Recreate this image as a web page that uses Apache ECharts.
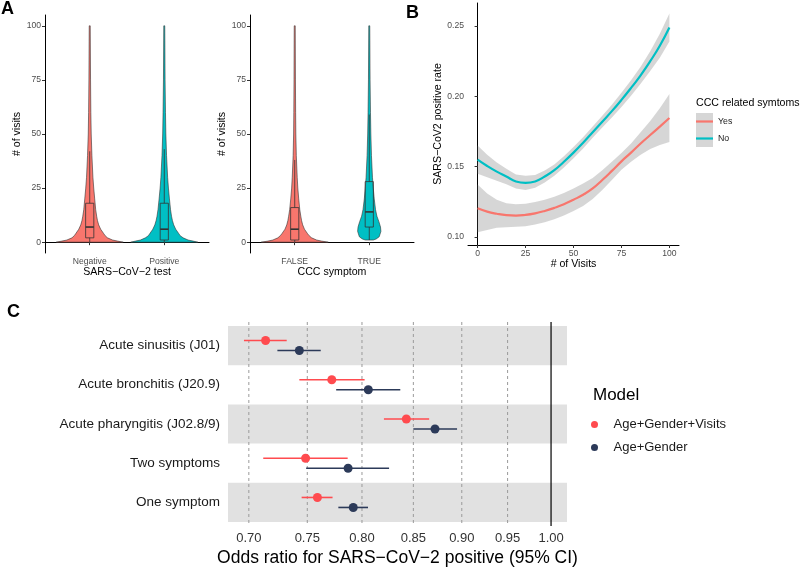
<!DOCTYPE html>
<html><head><meta charset="utf-8">
<script src="https://cdn.jsdelivr.net/npm/echarts@6/dist/echarts.min.js"></script>
<style>html,body{margin:0;padding:0;background:#fff}#c{width:800px;height:569px}</style>
</head><body><div id="c"></div>
<script>
// ---------- Panel A data ----------
const testGroups = ['Negative', 'Positive'];
const symptomGroups = ['FALSE', 'TRUE'];
const visitTicks = [0, 25, 50, 75, 100];
const violinLevels = [0, 0.5, 1, 2, 3, 4, 6, 8, 10, 12, 15, 20, 25, 30, 40, 50, 60, 75, 100];
const densNegative = [1.0, 0.83, 0.68, 0.53, 0.46, 0.415, 0.326, 0.267, 0.231, 0.207, 0.178, 0.148, 0.119, 0.095, 0.065, 0.044, 0.033, 0.024, 0.015];
const densPositive = [1.0, 0.86, 0.71, 0.563, 0.474, 0.43, 0.341, 0.281, 0.243, 0.216, 0.187, 0.154, 0.124, 0.10, 0.068, 0.047, 0.036, 0.024, 0.015];
const densFalse    = [1.0, 0.80, 0.652, 0.504, 0.43, 0.379, 0.29, 0.237, 0.204, 0.181, 0.151, 0.119, 0.092, 0.074, 0.047, 0.033, 0.027, 0.021, 0.015];
const trueLevels   = [1, 1.5, 2.5, 5, 7, 9.5, 12, 15, 20, 25, 30, 40, 50, 60, 75, 100];
const densTrue     = [0.119, 0.207, 0.296, 0.347, 0.335, 0.287, 0.228, 0.187, 0.148, 0.119, 0.095, 0.065, 0.047, 0.036, 0.024, 0.015];
// box stats: [min, q1, median, q3, upper whisker]
const boxNegative = [0, 2, 7, 18, 42];
const boxPositive = [0, 1, 6, 18, 43];
const boxFalse    = [0, 1, 6, 16, 38];
const boxTrue     = [1, 7, 14, 28, 59];

// ---------- Panel B data ----------
const visitsX = [0,5,10,15,20,25,30,35,40,45,50,55,60,65,70,75,80,85,90,95,100];
const rateYes   = [0.1204,0.1180,0.1165,0.1155,0.1152,0.1157,0.1168,0.1185,0.1207,0.1233,0.1265,0.1300,0.1345,0.1405,0.1470,0.1538,0.1600,0.1665,0.1725,0.1785,0.1846];
const rateYesLo = [0.1034,0.1050,0.1065,0.1070,0.1072,0.1077,0.1088,0.1105,0.1127,0.1153,0.1185,0.1220,0.1270,0.1335,0.1405,0.1478,0.1535,0.1585,0.1625,0.1655,0.1676];
const rateYesHi = [0.1374,0.1310,0.1265,0.1240,0.1232,0.1237,0.1248,0.1265,0.1287,0.1313,0.1345,0.1380,0.1420,0.1475,0.1535,0.1598,0.1665,0.1745,0.1825,0.1915,0.2016];
const rateNo    = [0.1550,0.1505,0.1465,0.1430,0.1395,0.1385,0.1395,0.1430,0.1475,0.1535,0.1600,0.1670,0.1745,0.1820,0.1895,0.1975,0.2060,0.2150,0.2250,0.2360,0.2490];
const rateNoLo  = [0.1450,0.1425,0.1400,0.1375,0.1345,0.1335,0.1350,0.1388,0.1435,0.1495,0.1560,0.1630,0.1705,0.1778,0.1850,0.1925,0.2005,0.2090,0.2180,0.2275,0.2390];
const rateNoHi  = [0.1650,0.1585,0.1530,0.1485,0.1445,0.1435,0.1440,0.1472,0.1515,0.1575,0.1640,0.1710,0.1785,0.1862,0.1940,0.2025,0.2115,0.2210,0.2320,0.2445,0.2590];
const rateTicks = [0.10, 0.15, 0.20, 0.25];

// ---------- Panel C data ----------
const conditions = ['Acute sinusitis (J01)', 'Acute bronchitis (J20.9)', 'Acute pharyngitis (J02.8/9)', 'Two symptoms', 'One symptom'];
const orFull   = [0.714, 0.772, 0.843, 0.7485, 0.759];
const orFullLo = [0.696, 0.743, 0.821, 0.712, 0.745];
const orFullHi = [0.732, 0.8025, 0.866, 0.7866, 0.7727];
const orBase   = [0.743, 0.806, 0.872, 0.787, 0.7918];
const orBaseLo = [0.724, 0.776, 0.850, 0.749, 0.778];
const orBaseHi = [0.762, 0.837, 0.895, 0.826, 0.8057];
const orTicks  = [0.70, 0.75, 0.80, 0.85, 0.90, 0.95, 1.00];

const RED = '#F8766D', TEAL = '#00BFC4';
const C_RED = '#FF4B4F', C_NAVY = '#2C3A59';
const FONT = 'Liberation Sans, Arial, Helvetica, sans-serif';
const nRows = conditions.length;

function violinSeries(xi, profiles) {
  return {
    type: 'custom', xAxisIndex: xi, yAxisIndex: xi, z: 2,
    data: profiles.map((p, i) => [i + 1, 0]),
    encode: {x: 0, y: 1},
    renderItem(params, api) {
      const p = profiles[params.dataIndex];
      const c = api.value(0);
      const pts = [];
      for (let i = 0; i < p.levels.length; i++) pts.push(api.coord([c + p.dens[i] * 0.45, p.levels[i]]));
      for (let i = p.levels.length - 1; i >= 0; i--) pts.push(api.coord([c - p.dens[i] * 0.45, p.levels[i]]));
      return {type: 'polygon', shape: {points: pts}, style: {fill: p.color, stroke: '#333', lineWidth: 0.6}};
    }
  };
}
function boxSeries(xi, boxes) {
  return {
    type: 'custom', xAxisIndex: xi, yAxisIndex: xi, z: 3,
    data: boxes.map((b, i) => [i + 1].concat(b)),
    encode: {x: 0, y: [1, 5]},
    renderItem(params, api) {
      const c = api.value(0), hw = 0.055;
      const lo = api.coord([c, api.value(1)]), q1 = api.coord([c, api.value(2)]);
      const q3 = api.coord([c, api.value(4)]), hi = api.coord([c, api.value(5)]);
      const ml = api.coord([c - hw, api.value(3)]), mr = api.coord([c + hw, api.value(3)]);
      const bl = api.coord([c - hw, api.value(4)]), br = api.coord([c + hw, api.value(2)]);
      const st = {stroke: '#333', lineWidth: 0.8, fill: null};
      return {type: 'group', children: [
        {type: 'line', shape: {x1: lo[0], y1: lo[1], x2: q1[0], y2: q1[1]}, style: st},
        {type: 'line', shape: {x1: q3[0], y1: q3[1], x2: hi[0], y2: hi[1]}, style: st},
        {type: 'rect', shape: {x: bl[0], y: bl[1], width: br[0] - bl[0], height: br[1] - bl[1]}, style: st},
        {type: 'line', shape: {x1: ml[0], y1: ml[1], x2: mr[0], y2: mr[1]}, style: {stroke: '#333', lineWidth: 1.6}}
      ]};
    }
  };
}
function bandSeries(lo, hi) {
  return {
    type: 'custom', xAxisIndex: 2, yAxisIndex: 2, z: 1, silent: true,
    data: [[visitsX[0], lo[0]]], encode: {x: 0, y: 1},
    renderItem(params, api) {
      const pts = [];
      for (let i = 0; i < visitsX.length; i++) pts.push(api.coord([visitsX[i], hi[i]]));
      for (let i = visitsX.length - 1; i >= 0; i--) pts.push(api.coord([visitsX[i], lo[i]]));
      return {type: 'polygon', shape: {points: pts}, style: {fill: 'rgba(153,153,153,0.4)'}};
    }
  };
}
function errSeries(name, lo, hi, color, off) {
  return {
    type: 'custom', name: name, xAxisIndex: 3, yAxisIndex: 3, z: 4,
    color: color, itemStyle: {color: color},
    data: lo.map((v, i) => [Math.log(v), Math.log(hi[i]), nRows - i]),
    encode: {x: [0, 1], y: 2},
    renderItem(params, api) {
      const a = api.coord([api.value(0), api.value(2)]);
      const b = api.coord([api.value(1), api.value(2)]);
      return {type: 'line', shape: {x1: a[0], y1: a[1] + off, x2: b[0], y2: b[1] + off}, style: {stroke: color, lineWidth: 1.6}};
    }
  };
}
function axisA(gi, name, labels) {
  return {
    type: 'value', gridIndex: gi, min: 0.4, max: 2.6,
    name: name, nameLocation: 'middle', nameGap: 12,
    nameTextStyle: {fontSize: 10.6, color: '#000', fontFamily: FONT},
    axisLine: {show: true, lineStyle: {color: '#000', width: 1}},
    axisTick: {show: true, length: 3, customValues: [1, 2], lineStyle: {color: '#333'}},
    axisLabel: {customValues: [1, 2], formatter: v => labels[Math.round(v) - 1], fontSize: 8.6, color: '#4D4D4D', margin: 4, fontFamily: FONT},
    splitLine: {show: false}
  };
}
function yAxisA(gi) {
  return {
    type: 'value', gridIndex: gi, min: -5, max: 105,
    name: '# of visits', nameLocation: 'middle', nameGap: 21,
    nameTextStyle: {fontSize: 10.6, color: '#000', fontFamily: FONT},
    axisLine: {show: true, lineStyle: {color: '#000', width: 1}},
    axisTick: {show: true, length: 3, customValues: visitTicks, lineStyle: {color: '#333'}},
    axisLabel: {customValues: visitTicks, fontSize: 8.6, color: '#4D4D4D', margin: 4, fontFamily: FONT},
    splitLine: {show: false}
  };
}

const option = {
  animation: false,
  textStyle: {fontFamily: FONT},
  title: [
    {text: 'A', left: 1, top: 0, padding: 0, textStyle: {fontSize: 18, fontWeight: 'bold', color: '#000', fontFamily: FONT}},
    {text: 'B', left: 406, top: 4, padding: 0, textStyle: {fontSize: 18, fontWeight: 'bold', color: '#000', fontFamily: FONT}},
    {text: 'C', left: 7, top: 303, padding: 0, textStyle: {fontSize: 18, fontWeight: 'bold', color: '#000', fontFamily: FONT}},
    {text: 'CCC related symtoms', left: 696, top: 98, padding: 0, textStyle: {fontSize: 10.6, fontWeight: 'normal', color: '#000', fontFamily: FONT}},
    {text: 'Model', left: 593, top: 387, padding: 0, textStyle: {fontSize: 17, fontWeight: 'normal', color: '#000', fontFamily: FONT}}
  ],
  graphic: [
    {type: 'rect', left: 696, top: 113, shape: {width: 17, height: 34}, style: {fill: '#D6D6D6'}, z: -1}
  ],
  legend: [
    {data: ['Yes', 'No'], orient: 'vertical', left: 696, top: 116, padding: 0,
     icon: 'rect', itemWidth: 17, itemHeight: 2.2, itemGap: 6,
     textStyle: {fontSize: 8.8, color: '#1A1A1A', fontFamily: FONT, lineHeight: 11}},
    {data: [{name: 'Age+Gender+Visits', itemStyle: {color: C_RED}}, {name: 'Age+Gender', itemStyle: {color: C_NAVY}}],
     orient: 'vertical', left: 591, top: 417, padding: 0,
     icon: 'circle', itemWidth: 28, itemHeight: 7, itemGap: 8,
     textStyle: {fontSize: 13, color: '#1A1A1A', fontFamily: FONT, lineHeight: 15}}
  ],
  grid: [
    {left: 45, top: 15, width: 164, height: 238},
    {left: 250, top: 15, width: 164, height: 238},
    {left: 468, top: 3, width: 211, height: 242},
    {left: 228, top: 322, width: 339, height: 204}
  ],
  xAxis: [
    axisA(0, 'SARS−CoV−2 test', testGroups),
    axisA(1, 'CCC symptom', symptomGroups),
    {
      type: 'value', gridIndex: 2, min: -5, max: 105,
      name: '# of Visits', nameLocation: 'middle', nameGap: 12,
      nameTextStyle: {fontSize: 10.6, color: '#000', fontFamily: FONT},
      axisLine: {show: true, lineStyle: {color: '#000', width: 1}},
      axisTick: {show: true, length: 3, customValues: visitTicks, lineStyle: {color: '#333'}},
      axisLabel: {customValues: visitTicks, fontSize: 8.6, color: '#4D4D4D', margin: 4, fontFamily: FONT},
      splitLine: {show: false}
    },
    {
      type: 'value', gridIndex: 3, min: Math.log(0.683), max: Math.log(1.019),
      name: 'Odds ratio for SARS−CoV−2 positive (95% CI)', nameLocation: 'middle', nameGap: 23,
      nameTextStyle: {fontSize: 17.5, color: '#000', fontFamily: FONT},
      axisLine: {show: false}, axisTick: {show: false},
      axisLabel: {customValues: orTicks.map(Math.log), formatter: v => Math.exp(v).toFixed(2), fontSize: 13, color: '#333', margin: 6, fontFamily: FONT},
      splitLine: {show: false}
    }
  ],
  yAxis: [
    yAxisA(0),
    yAxisA(1),
    {
      type: 'value', gridIndex: 2, min: 0.0943, max: 0.2664,
      name: 'SARS−CoV2 positive rate', nameLocation: 'middle', nameGap: 23,
      nameTextStyle: {fontSize: 10.6, color: '#000', fontFamily: FONT},
      axisLine: {show: true, lineStyle: {color: '#000', width: 1}},
      axisTick: {show: true, length: 3, customValues: rateTicks, lineStyle: {color: '#333'}},
      axisLabel: {customValues: rateTicks, formatter: v => v.toFixed(2), fontSize: 8.6, color: '#4D4D4D', margin: 4, fontFamily: FONT},
      splitLine: {show: false}
    },
    {
      type: 'value', gridIndex: 3, min: 0.4, max: nRows + 0.6,
      axisLine: {show: false}, axisTick: {show: false},
      axisLabel: {customValues: conditions.map((c, i) => nRows - i), formatter: v => conditions[nRows - Math.round(v)], fontSize: 13.5, color: '#1A1A1A', margin: 8, fontFamily: FONT},
      splitLine: {show: false}
    }
  ],
  series: [
    violinSeries(0, [
      {levels: violinLevels, dens: densNegative, color: RED},
      {levels: violinLevels, dens: densPositive, color: TEAL}
    ]),
    boxSeries(0, [boxNegative, boxPositive]),
    violinSeries(1, [
      {levels: violinLevels, dens: densFalse, color: RED},
      {levels: trueLevels, dens: densTrue, color: TEAL}
    ]),
    boxSeries(1, [boxFalse, boxTrue]),
    bandSeries(rateYesLo, rateYesHi),
    bandSeries(rateNoLo, rateNoHi),
    {type: 'line', name: 'Yes', xAxisIndex: 2, yAxisIndex: 2, z: 3, showSymbol: false, smooth: true,
     color: RED, lineStyle: {width: 2.2, color: RED}, data: visitsX.map((x, i) => [x, rateYes[i]])},
    {type: 'line', name: 'No', xAxisIndex: 2, yAxisIndex: 2, z: 3, showSymbol: false, smooth: true,
     color: TEAL, lineStyle: {width: 2.2, color: TEAL}, data: visitsX.map((x, i) => [x, rateNo[i]])},
    // Panel C stripes
    {type: 'custom', xAxisIndex: 3, yAxisIndex: 3, z: 1, silent: true,
     data: conditions.map((c, i) => [Math.log(1), nRows - i]).filter((d, i) => i % 2 === 0),
     encode: {x: 0, y: 1},
     renderItem(params, api) {
       const cs = params.coordSys;
       const t = api.coord([api.value(0), api.value(1) + 0.5]);
       const b = api.coord([api.value(0), api.value(1) - 0.5]);
       return {type: 'rect', shape: {x: cs.x, y: t[1], width: cs.width, height: b[1] - t[1]}, style: {fill: '#E1E1E1'}};
     }},
    // Panel C reference lines
    {type: 'custom', xAxisIndex: 3, yAxisIndex: 3, z: 2, silent: true,
     data: orTicks.map(t => [Math.log(t), 1]), encode: {x: 0, y: 1},
     renderItem(params, api) {
       const cs = params.coordSys;
       const p = api.coord([api.value(0), api.value(1)]);
       const isRef = params.dataIndex === orTicks.length - 1;
       return {type: 'line', shape: {x1: p[0], y1: cs.y, x2: p[0], y2: cs.y + cs.height},
         style: isRef ? {stroke: '#000', lineWidth: 1.2} : {stroke: '#9A9A9A', lineWidth: 1, lineDash: [3, 3]}};
     }},
    {type: 'scatter', name: 'Age+Gender+Visits', xAxisIndex: 3, yAxisIndex: 3, z: 5,
     symbolSize: 9, symbolOffset: [0, -5], itemStyle: {color: C_RED, opacity: 1}, color: C_RED,
     data: orFull.map((v, i) => [Math.log(v), nRows - i])},
    {type: 'scatter', name: 'Age+Gender', xAxisIndex: 3, yAxisIndex: 3, z: 5,
     symbolSize: 9, symbolOffset: [0, 5], itemStyle: {color: C_NAVY, opacity: 1}, color: C_NAVY,
     data: orBase.map((v, i) => [Math.log(v), nRows - i])},
    errSeries('Age+Gender+Visits', orFullLo, orFullHi, C_RED, -5),
    errSeries('Age+Gender', orBaseLo, orBaseHi, C_NAVY, 5)
  ]
};
const chart = echarts.init(document.getElementById('c'), null, {renderer: 'canvas'});
chart.setOption(option);
</script>
</body></html>
